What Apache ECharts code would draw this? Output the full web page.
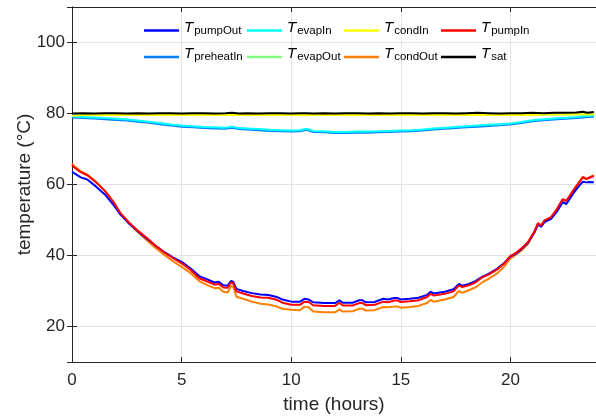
<!DOCTYPE html>
<html>
<head>
<meta charset="utf-8">
<script src="https://cdn.jsdelivr.net/npm/echarts@6/dist/echarts.min.js"></script>
<style>
  html, body { margin: 0; padding: 0; background: #ffffff; }
  #chart { width: 596px; height: 419px; }
</style>
</head>
<body>
<div id="chart"></div>
<script>
// Time axis for the pump / condenser-outlet temperatures (hours)
const hoursLow = [0, 0.15, 0.4, 0.7, 1.1, 1.5, 1.9, 2.2, 2.6, 3.0, 3.4, 3.8, 4.2, 4.6, 5.0, 5.4, 5.8, 6.2, 6.5, 6.7,
  6.9, 7.1, 7.25, 7.35, 7.5, 7.8, 8.2, 8.6, 8.95, 9.3, 9.6, 10.0, 10.4, 10.6, 10.8, 11.0, 11.5, 12.0, 12.2, 12.35,
  12.8, 13.1, 13.25, 13.4, 13.8, 14.2, 14.4, 14.7, 14.85, 15.0, 15.4, 15.8, 16.2, 16.35, 16.5, 17.0, 17.4, 17.65, 17.8, 18.1,
  18.4, 18.7, 19.0, 19.4, 19.7, 20.0, 20.2, 20.5, 20.8, 21.1, 21.25, 21.4, 21.55, 21.85, 22.1, 22.38, 22.55, 22.9, 23.1, 23.3,
  23.45, 23.6, 23.8];

const pumpOut = [63.6, 63.0, 62.0, 61.4, 59.4, 57.2, 54.2, 51.6, 49.0, 46.8, 44.8, 42.8, 41.0, 39.5, 38.2, 36.4, 34.2, 33.2, 32.4, 32.6,
  31.6, 31.5, 32.8, 32.6, 30.6, 30.0, 29.4, 29.0, 28.9, 28.4, 27.6, 27.0, 27.0, 27.8, 27.6, 26.8, 26.6, 26.6, 27.4, 26.7,
  26.7, 27.4, 27.4, 26.8, 26.9, 27.8, 27.6, 28.0, 28.0, 27.6, 27.8, 28.1, 28.9, 29.8, 29.3, 29.8, 30.5, 32.0, 31.5, 32.0,
  32.8, 34.0, 34.8, 36.3, 37.8, 39.8, 40.3, 41.8, 43.6, 46.6, 48.7, 48.1, 49.4, 50.3, 52.2, 55.0, 54.5, 57.8, 59.4, 60.8,
  60.6, 60.7, 60.6];

const pumpIn = [65.5, 64.6, 63.5, 62.6, 60.6, 58.2, 55.0, 52.0, 49.3, 47.0, 45.0, 42.8, 40.9, 39.3, 37.8, 36.0, 33.6, 32.6, 31.8, 32.0,
  31.0, 30.9, 32.4, 32.2, 29.9, 29.3, 28.6, 28.2, 28.1, 27.6, 26.7, 26.1, 26.1, 27.0, 26.9, 26.0, 25.8, 25.8, 26.7, 25.9,
  25.9, 26.6, 26.6, 26.0, 26.1, 27.0, 26.8, 27.3, 27.3, 26.9, 27.1, 27.4, 28.3, 29.2, 28.7, 29.2, 29.9, 31.6, 31.1, 31.6,
  32.4, 33.8, 34.6, 36.1, 37.7, 39.9, 40.5, 42.0, 43.8, 46.9, 49.1, 48.5, 49.9, 50.8, 52.9, 55.9, 55.4, 58.7, 60.4, 62.1,
  61.5, 61.9, 62.4];

const condOut = [65.8, 64.9, 63.7, 62.8, 60.7, 58.2, 55.0, 51.9, 49.1, 46.6, 44.4, 42.2, 40.2, 38.4, 36.8, 35.1, 32.8, 31.6, 30.8, 30.9,
  29.8, 29.6, 31.4, 31.2, 28.4, 27.8, 27.0, 26.4, 26.2, 25.7, 25.0, 24.7, 24.6, 25.6, 25.4, 24.2, 24.0, 24.0, 24.8, 24.2,
  24.3, 25.0, 25.0, 24.5, 24.6, 25.5, 25.4, 25.6, 25.6, 25.3, 25.5, 25.8, 26.6, 27.5, 27.0, 27.6, 28.3, 30.0, 29.5, 30.2,
  31.0, 32.4, 33.4, 35.0, 36.8, 39.2, 40.0, 41.4, 43.2, 46.6, 48.8, 48.2, 49.6, 50.5, 52.6, 55.6, 55.2, 58.5, 60.3, 62.2,
  61.6, 62.0, 62.6];

// Time axis for the evaporator / condenser-inlet / saturation temperatures (hours)
const hoursHigh = [0, 0.5, 1, 1.5, 2, 2.5, 3, 3.5, 4, 4.5, 5, 5.5, 6, 6.5, 7, 7.3, 7.6, 8, 8.5, 9,
  9.5, 10, 10.4, 10.7, 11, 11.5, 12, 12.5, 13, 13.5, 14, 14.5, 15, 15.5, 16, 16.5, 17, 17.5, 18, 18.5,
  19, 19.5, 20, 20.5, 21, 21.5, 22, 22.5, 23, 23.3, 23.5, 23.8];

const evapIn = [79.2, 79.0, 78.9, 78.7, 78.5, 78.3, 78.0, 77.7, 77.3, 76.9, 76.6, 76.4, 76.2, 76.1, 76.0, 76.3, 75.9, 75.8, 75.6, 75.4,
  75.3, 75.2, 75.3, 75.7, 75.1, 75.0, 74.8, 74.8, 74.9, 74.9, 75.0, 75.1, 75.2, 75.3, 75.5, 75.8, 76.0, 76.2, 76.4, 76.6,
  76.8, 77.0, 77.2, 77.6, 78.1, 78.4, 78.6, 78.8, 79.0, 79.2, 79.3, 79.4];

const preheatIn = [78.9, 78.7, 78.6, 78.4, 78.2, 78.0, 77.7, 77.4, 77.0, 76.6, 76.3, 76.1, 75.9, 75.8, 75.7, 76.0, 75.6, 75.5, 75.3, 75.1,
  75.0, 74.9, 75.0, 75.4, 74.8, 74.7, 74.5, 74.5, 74.6, 74.6, 74.7, 74.8, 74.9, 75.0, 75.2, 75.5, 75.7, 75.9, 76.1, 76.3,
  76.5, 76.7, 76.9, 77.3, 77.8, 78.1, 78.3, 78.5, 78.7, 78.9, 79.0, 79.1];

const condIn = [79.4, 79.6, 79.6, 79.6, 79.6, 79.6, 79.6, 79.6, 79.6, 79.6, 79.6, 79.6, 79.6, 79.6, 79.6, 79.6, 79.6, 79.6, 79.6, 79.6,
  79.6, 79.6, 79.6, 79.6, 79.6, 79.6, 79.6, 79.6, 79.6, 79.6, 79.6, 79.6, 79.6, 79.6, 79.6, 79.6, 79.6, 79.6, 79.6, 79.6,
  79.6, 79.6, 79.6, 79.6, 79.6, 79.7, 79.7, 79.7, 79.8, 79.8, 79.7, 79.8];

const evapOut = condIn.slice();

const sat = [80.0, 80.1, 80.0, 80.1, 80.1, 80.0, 80.1, 80.0, 80.1, 80.1, 80.0, 80.1, 80.1, 80.0, 80.1, 80.2, 80.0, 80.1, 80.0, 80.1,
  80.1, 80.0, 80.1, 80.1, 80.0, 80.1, 80.0, 80.1, 80.1, 80.0, 80.1, 80.0, 80.1, 80.1, 80.0, 80.1, 80.1, 80.0, 80.1, 80.2,
  80.1, 80.0, 80.1, 80.1, 80.2, 80.1, 80.2, 80.2, 80.3, 80.5, 80.2, 80.4];

// x-axis and y-axis tick labels
const xTicks = [0, 5, 10, 15, 20];
const yTicks = [20, 40, 60, 80, 100];

const pair = (xs, ys) => xs.map((x, i) => [x, ys[i]]);

const FONT = '"Liberation Sans", Arial, Helvetica, sans-serif';
const INK = '#262626';
const GRID = '#e3e3e3';

const lines = [
  { name: 'evapOut',   color: '#80ff80', x: hoursHigh, y: evapOut },
  { name: 'preheatIn', color: '#0080ff', x: hoursHigh, y: preheatIn },
  { name: 'evapIn',    color: '#00ffff', x: hoursHigh, y: evapIn },
  { name: 'condIn',    color: '#ffff00', x: hoursHigh, y: condIn },
  { name: 'sat',       color: '#000000', x: hoursHigh, y: sat },
  { name: 'condOut',   color: '#ff8000', x: hoursLow,  y: condOut },
  { name: 'pumpOut',   color: '#0000ff', x: hoursLow,  y: pumpOut },
  { name: 'pumpIn',    color: '#ff0000', x: hoursLow,  y: pumpIn }
];

const series = lines.map(s => ({
  name: s.name,
  type: 'line',
  data: pair(s.x, s.y),
  symbol: 'none',
  smooth: false,
  color: s.color,
  lineStyle: { width: 2, color: s.color },
  xAxisIndex: 0,
  yAxisIndex: 0
}));

const legendColumns = [
  { left: 144, data: ['pumpOut', 'preheatIn'] },
  { left: 247, data: ['evapIn', 'evapOut'] },
  { left: 344, data: ['condIn', 'condOut'] },
  { left: 441, data: ['pumpIn', 'sat'] }
];

const legends = legendColumns.map(c => ({
  orient: 'vertical',
  left: c.left,
  top: 20,
  itemGap: 10,
  itemWidth: 35,
  itemHeight: 2.5,
  icon: 'rect',
  selectedMode: false,
  padding: 0,
  data: c.data,
  formatter: name => '{t|T}{s|' + name + '}',
  textStyle: {
    fontFamily: FONT,
    color: '#000',
    rich: {
      t: { fontSize: 15, fontStyle: 'italic', fontFamily: FONT, color: '#000', padding: [0, 1, 6, 0] },
      s: { fontSize: 11.5, fontFamily: FONT, color: '#000' }
    }
  }
}));

const baseX = {
  type: 'value',
  min: 0,
  max: 23.9,
  interval: 5,
  axisLine: { show: true, lineStyle: { color: INK, width: 1 } },
  axisTick: { show: true, inside: true, length: 5, lineStyle: { color: INK } }
};

const baseY = {
  type: 'value',
  min: 10,
  max: 110,
  splitNumber: 5,
  minInterval: 20,
  maxInterval: 20,
  axisLine: { show: true, lineStyle: { color: INK, width: 1 } },
  axisTick: { show: true, inside: true, length: 5, lineStyle: { color: INK } }
};

const option = {
  animation: false,
  backgroundColor: '#ffffff',
  grid: { left: 72, right: -2, top: 7, bottom: 57, containLabel: false },
  legend: legends,
  xAxis: [
    Object.assign({}, baseX, {
      position: 'bottom',
      name: 'time (hours)',
      nameLocation: 'middle',
      nameGap: 33,
      nameMoveOverlap: false,
      nameTextStyle: { fontFamily: FONT, fontSize: 19, color: INK },
      axisLabel: {
        show: true, margin: 10, fontFamily: FONT, fontSize: 17, color: INK,
        showMaxLabel: false,
        formatter: v => (xTicks.indexOf(v) >= 0 ? String(v) : '')
      },
      splitLine: { show: true, lineStyle: { color: GRID, width: 1 } }
    }),
    Object.assign({}, baseX, {
      position: 'top',
      axisLabel: { show: false },
      splitLine: { show: false }
    })
  ],
  yAxis: [
    Object.assign({}, baseY, {
      position: 'left',
      name: 'temperature (°C)',
      nameLocation: 'middle',
      nameGap: 38,
      nameMoveOverlap: false,
      nameTextStyle: { fontFamily: FONT, fontSize: 19, color: INK },
      axisLabel: {
        show: true, margin: 7, fontFamily: FONT, fontSize: 17, color: INK,
        showMinLabel: false, showMaxLabel: false,
        formatter: v => (yTicks.indexOf(v) >= 0 ? String(v) : '')
      },
      splitLine: { show: true, lineStyle: { color: GRID, width: 1 } }
    }),
    Object.assign({}, baseY, {
      position: 'right',
      axisLabel: { show: false },
      splitLine: { show: false }
    })
  ],
  series: series
};

const chart = echarts.init(document.getElementById('chart'), null, { renderer: 'canvas' });
chart.setOption(option);
</script>
</body>
</html>
